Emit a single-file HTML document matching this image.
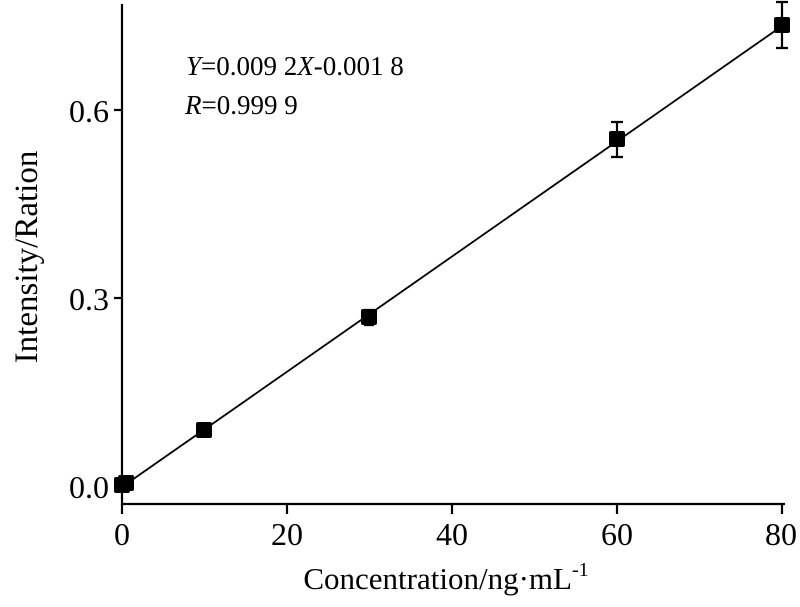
<!DOCTYPE html>
<html><head><meta charset="utf-8"><style>body{margin:0;background:#fff}</style></head>
<body>
<svg width="800" height="602" xmlns="http://www.w3.org/2000/svg" font-family="Liberation Serif, serif" fill="#000">
<g stroke="#000" stroke-width="2.2" fill="none">
<line x1="122" y1="4" x2="122" y2="505"/>
<line x1="121" y1="504" x2="785" y2="504"/>
<line x1="114" y1="110" x2="122" y2="110"/>
<line x1="114" y1="298" x2="122" y2="298"/>
<line x1="114" y1="486" x2="122" y2="486"/>
<line x1="122" y1="504" x2="122" y2="514"/>
<line x1="287" y1="504" x2="287" y2="514"/>
<line x1="452" y1="504" x2="452" y2="514"/>
<line x1="617" y1="504" x2="617" y2="514"/>
<line x1="782" y1="504" x2="782" y2="514"/>
<line x1="122" y1="487" x2="782" y2="26" stroke-width="1.8"/>
<path d="M617 122V157M611 122H623M611 157H623M782 2V48M776 2H788M776 48H788M369 310V325M364 310H374M364 325H374"/>
</g>
<g>
<rect x="114" y="477" width="16" height="16" rx="2"/>
<rect x="118" y="475" width="16" height="16" rx="2"/>
<rect x="196" y="422" width="16" height="16" rx="2"/>
<rect x="361" y="309" width="16" height="16" rx="2"/>
<rect x="609" y="131" width="16" height="16" rx="2"/>
<rect x="774" y="17" width="16" height="16" rx="2"/>
</g>
<g font-size="32" text-anchor="end">
<text x="109" y="122">0.6</text>
<text x="109" y="310">0.3</text>
<text x="109" y="498">0.0</text>
</g>
<g font-size="32" text-anchor="middle">
<text x="122" y="545">0</text>
<text x="287" y="545">20</text>
<text x="452" y="545">40</text>
<text x="617" y="545">60</text>
<text x="781" y="545">80</text>
</g>
<text x="446" y="589" font-size="31" text-anchor="middle">Concentration/ng·mL<tspan font-size="20" dy="-13">-1</tspan></text>
<text transform="translate(37,257) rotate(-90)" font-size="33" text-anchor="middle">Intensity/Ration</text>
<text x="186" y="75" font-size="27"><tspan font-style="italic">Y</tspan>=0.009 2<tspan font-style="italic">X</tspan>-0.001 8</text>
<text x="185" y="114" font-size="27"><tspan font-style="italic">R</tspan>=0.999 9</text>
</svg>
</body></html>
